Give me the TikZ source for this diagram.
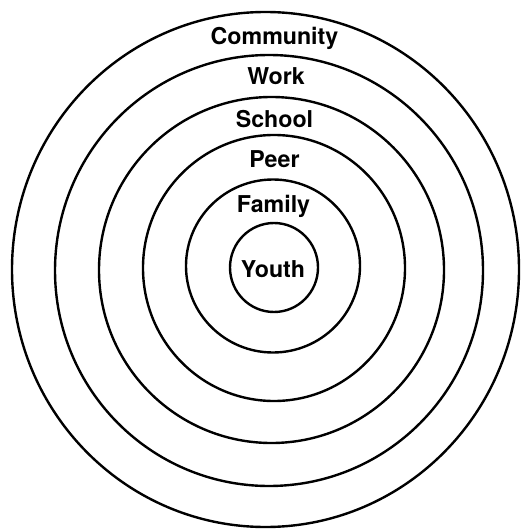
\documentclass[tikz,border=0pt]{standalone}
\usepackage{fontspec}
\setsansfont{TeX Gyre Heros}
\tikzstyle{ring}=[black,line width=1.2pt]
\tikzstyle{ringlabel}=[anchor=base,inner sep=0pt,font=\sffamily\bfseries\fontsize{11.6}{13}\selectfont]
\begin{document}
\begin{tikzpicture}[x=0.5pt,y=-0.5pt]
\useasboundingbox (0,0) rectangle (520,529);
% rings, inner to outer: center x / center y / x radius / y radius
\foreach \cx/\cy/\rx/\ry in {274/267.5/44/44.5, 273/266/87/86.5, 274/268/131/133,
    271.5/270/172.5/173, 269/270.5/214/215.5, 265.5/269.5/253.5/257.5}
  \draw[ring] (\cx,\cy) ellipse [x radius=\rx,y radius=\ry];
\node[ringlabel] (community) at (274.5,45) {Community};
\node[ringlabel] (work) at (276,85) {Work};
\node[ringlabel] (school) at (274.5,128) {School};
\node[ringlabel] (peer) at (274.5,168) {Peer};
\node[ringlabel] (family) at (273.5,213) {Family};
\node[ringlabel] (youth) at (273,277) {Youth};
\end{tikzpicture}
\end{document}
